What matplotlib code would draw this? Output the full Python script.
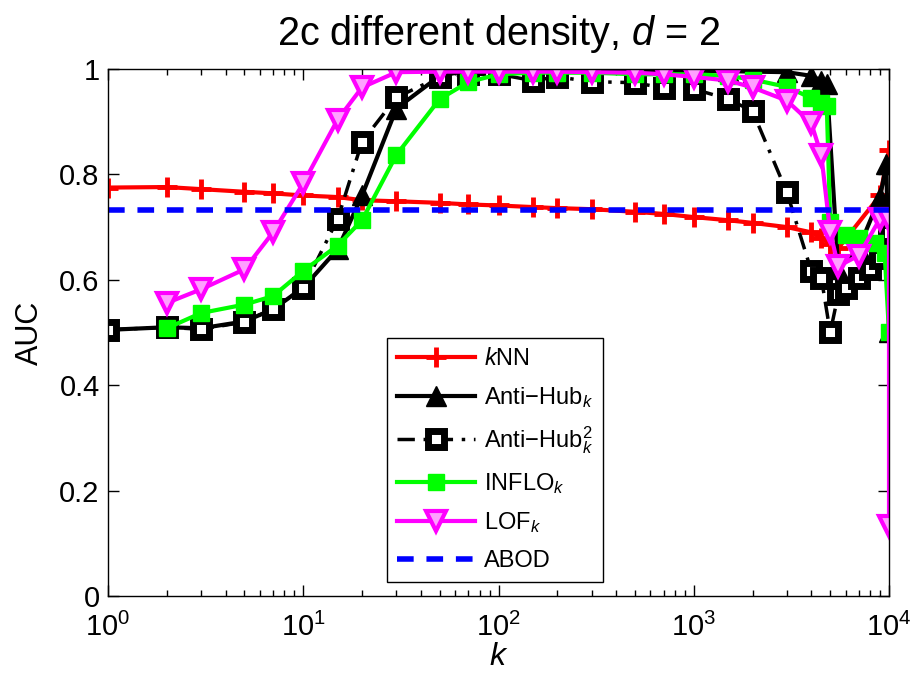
import matplotlib
matplotlib.use("Agg")
import matplotlib.pyplot as plt
from matplotlib.ticker import LogLocator, FixedLocator, FixedFormatter, NullFormatter

plt.rcParams['font.family'] = ['Liberation Sans', 'DejaVu Sans']
plt.rcParams['mathtext.fontset'] = 'custom'
plt.rcParams['mathtext.rm'] = 'Liberation Sans'
plt.rcParams['mathtext.it'] = 'Liberation Sans:italic'
plt.rcParams['mathtext.bf'] = 'Liberation Sans:bold'

# ---------------- data ----------------
knn_k = [1, 2, 3, 5, 7, 10, 15, 20, 30, 50, 70, 100, 150, 200, 300, 500, 700, 1000,
         1500, 2000, 3000, 4000, 4500, 5000, 5500, 9000, 10000]
knn_auc = [0.775, 0.776, 0.772, 0.767, 0.764, 0.760, 0.757, 0.751, 0.749, 0.746, 0.743,
           0.741, 0.738, 0.736, 0.734, 0.729, 0.725, 0.719, 0.713, 0.708, 0.700, 0.690,
           0.680, 0.668, 0.660, 0.760, 0.847]

ah_k = [1, 2, 3, 5, 7, 10, 15, 20, 30, 50, 70, 100, 150, 200, 300, 500, 700, 1000,
        1500, 2000, 3000, 4000, 4500, 4800, 5500, 7000, 9000, 9700, 10000]
ah_auc = [0.505, 0.510, 0.508, 0.521, 0.544, 0.585, 0.658, 0.760, 0.925, 0.987, 0.997,
          0.997, 0.997, 0.997, 0.997, 0.997, 0.997, 0.996, 0.996, 0.995, 0.994, 0.987,
          0.978, 0.971, 0.620, 0.660, 0.757, 0.820, 0.500]

ah2_k = [1, 2, 3, 5, 7, 10, 15, 20, 30, 50, 70, 100, 150, 200, 300, 500, 700, 1000,
         1500, 2000, 3000, 4000, 4500, 5000, 5500, 6000, 7000, 8000, 9000, 10000]
ah2_auc = [0.505, 0.510, 0.506, 0.520, 0.545, 0.585, 0.715, 0.862, 0.946, 0.985, 0.990,
           0.990, 0.978, 0.985, 0.976, 0.974, 0.964, 0.962, 0.943, 0.920, 0.766, 0.617,
           0.604, 0.500, 0.573, 0.585, 0.604, 0.620, 0.642, 0.688]

inflo_k = [2, 3, 5, 7, 10, 15, 20, 30, 50, 70, 100, 150, 200, 300, 500, 700, 1000,
           1500, 2000, 3000, 4000, 4500, 4800, 5000, 6000, 7000, 8500, 9500, 10000]
inflo_auc = [0.508, 0.537, 0.553, 0.569, 0.617, 0.665, 0.713, 0.837, 0.943, 0.975, 0.990,
             0.993, 0.993, 0.993, 0.990, 0.990, 0.990, 0.987, 0.980, 0.966, 0.945, 0.935,
             0.930, 0.710, 0.685, 0.680, 0.670, 0.650, 0.500]

lof_k = [2, 3, 5, 7, 10, 15, 20, 30, 50, 70, 100, 150, 200, 300, 500, 700, 1000,
         1500, 2000, 3000, 4000, 4500, 5000, 5500, 7000, 9000, 10000, 10000]
lof_auc = [0.556, 0.582, 0.620, 0.690, 0.783, 0.904, 0.965, 0.994, 0.995, 0.995, 0.995,
           0.995, 0.995, 0.994, 0.993, 0.990, 0.985, 0.978, 0.965, 0.940, 0.897, 0.837,
           0.690, 0.626, 0.646, 0.716, 0.713, 0.132]

abod_k = [1, 10000]
abod_auc = [0.733, 0.733]

x_ticks = [1, 10, 100, 1000, 10000]
x_ticklabels = ['$10^{0}$', '$10^{1}$', '$10^{2}$', '$10^{3}$', '$10^{4}$']
y_ticks = [0, 0.2, 0.4, 0.6, 0.8, 1.0]
y_ticklabels = ['0', '0.2', '0.4', '0.6', '0.8', '1']

# ---------------- figure ----------------
fig = plt.figure(figsize=(9.10, 6.77), dpi=100)
ax = fig.add_axes([108 / 910, (677 - 596) / 677, (889 - 108) / 910, (596 - 69) / 677])

ax.plot(knn_k, knn_auc, color='#ff0000', lw=3, marker='+', ms=14, mew=3.5,
        label='$k$NN')
ax.plot(ah_k, ah_auc, color='black', lw=3, marker='^', ms=14, mfc='black', mec='black',
        label='Anti\u2212Hub$_k$')
ax.plot(ah2_k, ah2_auc, color='black', lw=2.5, ls=(0, (5, 2.5, 1, 2.5)), marker='s', ms=12,
        mfc='white', mec='black', mew=5, label='Anti\u2212Hub$_k^2$')
ax.plot(inflo_k, inflo_auc, color='#00ff00', lw=3, marker='s', ms=12, mfc='#00ff00',
        mec='#00ff00', label='INFLO$_k$')
ax.plot(lof_k, lof_auc, color='#ff00ff', lw=3, marker='v', ms=14, mfc='#ffa0ff',
        mec='#ff00ff', mew=3, label='LOF$_k$')
ax.plot(abod_k, abod_auc, color='#0000ff', lw=4, ls=(0, (3, 2.3)), label='ABOD')

ax.set_xscale('log')
ax.set_xlim(1, 10000)
ax.set_ylim(0, 1)
ax.xaxis.set_major_locator(FixedLocator(x_ticks))
ax.xaxis.set_major_formatter(FixedFormatter(x_ticklabels))
ax.xaxis.set_minor_locator(LogLocator(base=10, subs=range(2, 10), numticks=20))
ax.xaxis.set_minor_formatter(NullFormatter())
ax.yaxis.set_major_locator(FixedLocator(y_ticks))
ax.yaxis.set_major_formatter(FixedFormatter(y_ticklabels))

ax.tick_params(which='both', direction='in', top=True, right=True, width=1)
ax.tick_params(which='major', length=8)
ax.tick_params(axis='y', which='major', labelsize=21, pad=6)
ax.tick_params(axis='x', which='major', labelsize=21, pad=12)
ax.tick_params(which='minor', length=4)
for s in ax.spines.values():
    s.set_linewidth(1)

ax.set_xlabel('$k$', fontsize=23, labelpad=0)
ax.set_ylabel('AUC', fontsize=22, labelpad=10)
ax.set_title('2c different density, $d$ = 2', fontsize=28.5, pad=17)

leg = ax.legend(loc='lower left', bbox_to_anchor=(0.357, 0.027), fontsize=17,
                frameon=True, fancybox=False, edgecolor='black', framealpha=1,
                handlelength=3.3, handletextpad=0.4, labelspacing=0.62,
                borderpad=0.42, borderaxespad=0)
leg.get_frame().set_linewidth(1)

fig.savefig('out.png', dpi=100)
